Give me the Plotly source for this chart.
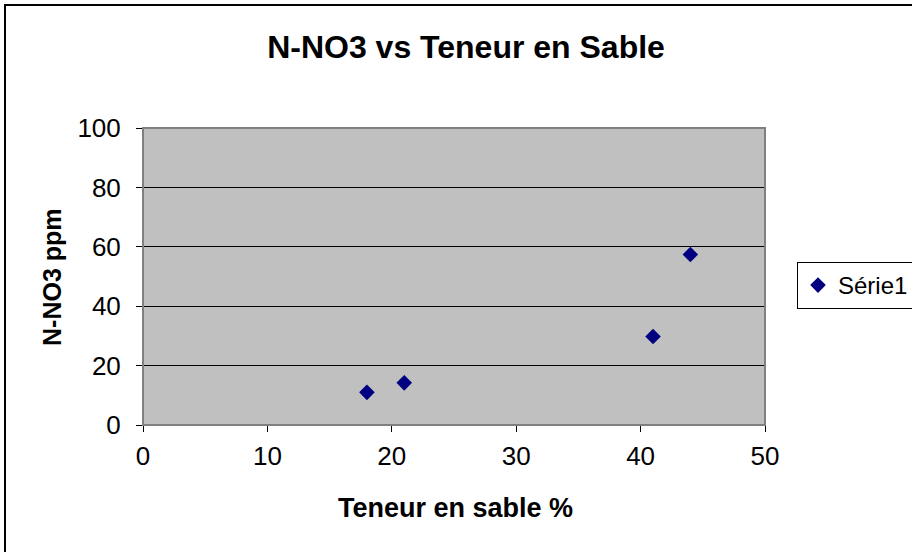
import plotly.graph_objects as go

sable = [18, 21, 41, 44]
nno3 = [11, 14.2, 29.8, 57.4]
series_name = "Série1"
x_ticks = [0, 10, 20, 30, 40, 50]
y_ticks = [0, 20, 40, 60, 80, 100]

# plot area in page pixels
L, R, T, B = 143, 765, 128, 425
W, H = 912, 552
pw, ph = R - L, B - T

def px(x):
    return (x - L) / pw

def py(y):
    return (B - y) / ph

fig = go.Figure()
fig.add_trace(go.Scatter(
    x=sable, y=nno3, mode="markers", name=series_name,
    marker=dict(symbol="diamond", size=12, color="#000080",
                line=dict(width=0)),
    showlegend=True,
))

font = "Liberation Sans, Arial, sans-serif"
fig.update_layout(
    width=W, height=H,
    margin=dict(l=L, r=W - R, t=T, b=H - B, pad=0, autoexpand=False),
    paper_bgcolor="white",
    plot_bgcolor="#C0C0C0",
    font=dict(family=font, size=26, color="black"),
    title=dict(text="<b>N-NO3 vs Teneur en Sable</b>", x=px(466), xref="paper",
               xanchor="center", y=1 - 47 / H, yanchor="middle",
               font=dict(size=32, family=font)),
    xaxis=dict(range=[0, 50], tickvals=x_ticks, showgrid=False,
               zeroline=False, showline=True, linecolor="black", linewidth=1,
               ticks="outside", ticklen=6, tickcolor="black",
               tickfont=dict(size=26), ticklabelstandoff=2),
    yaxis=dict(range=[0, 100], tickvals=y_ticks, showgrid=True,
               gridcolor="black", gridwidth=1, zeroline=False,
               showline=True, linecolor="#404040", linewidth=1,
               ticks="outside", ticklen=6, tickcolor="black",
               tickfont=dict(size=26), ticklabelstandoff=10),
    legend=dict(x=px(797), y=py(262), xanchor="left", yanchor="top",
                bgcolor="white", bordercolor="black", borderwidth=1,
                font=dict(size=24), itemwidth=30),
    annotations=[
        dict(text="<b>Teneur en sable %</b>", xref="paper", yref="paper",
             x=px(455), y=py(508), xanchor="center", yanchor="middle",
             showarrow=False, font=dict(size=27)),
        dict(text="<b>N-NO3 ppm</b>", xref="paper", yref="paper",
             x=px(52), y=py(277), xanchor="center", yanchor="middle",
             textangle=-90, showarrow=False, font=dict(size=25)),
    ],
    shapes=[
        dict(type="rect", xref="paper", yref="paper",
             x0=0, x1=1, y0=0, y1=1,
             line=dict(color="#808080", width=2), layer="above"),
        dict(type="rect", xref="paper", yref="paper",
             x0=px(5), x1=px(W + 100),
             y0=py(H + 100), y1=py(5),
             line=dict(color="black", width=2), fillcolor="rgba(0,0,0,0)"),
    ],
)

fig.write_html("out.html", config={"displayModeBar": False},
               post_script="document.body.style.margin='0';")
